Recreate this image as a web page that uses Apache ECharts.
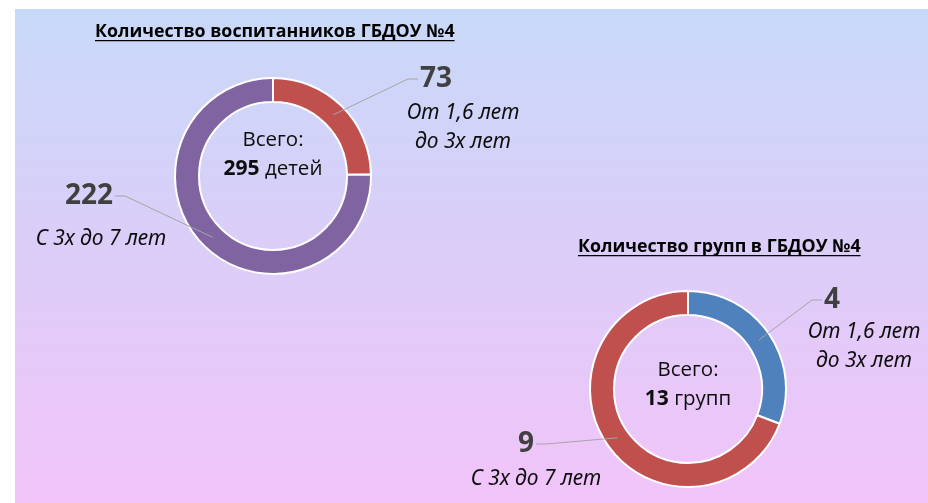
<!DOCTYPE html>
<html><head><meta charset="utf-8">
<script src="https://cdn.jsdelivr.net/npm/echarts@6/dist/echarts.min.js"></script>
<style>html,body{margin:0;padding:0;background:#fff}#c{width:928px;height:503px}</style>
</head><body><div id="c"></div>
<script>
// ---- data ----
const chart1Title = 'Количество воспитанников ГБДОУ №4';
const chart1Categories = ['От 1,6 лет\nдо 3х лет', 'С 3х до 7 лет'];
const chart1Values = [73, 222];
const chart1Unit = 'детей';

const chart2Title = 'Количество групп в ГБДОУ №4';
const chart2Categories = ['От 1,6 лет\nдо 3х лет', 'С 3х до 7 лет'];
const chart2Values = [4, 9];
const chart2Unit = 'групп';

const totalWord = 'Всего:';

// ---- layout / style ----
const FONT = '"Open Sans", "Noto Sans", sans-serif';
const ITALIC_FONT = '"Noto Sans", "Open Sans", sans-serif';
const TITLE_FONT = '"Open Sans", Roboto, sans-serif';
const colors1 = ['#c0504d', '#8064a2'];
const colors2 = ['#4f81bd', '#c0504d'];
const C1 = [273, 176], C2 = [688, 389];
const R_IN = 74, R_OUT = 98, R_ANCHOR = 86;

// label placement: [x, y, align]
const numPos1 = [[420, 79, 'left'], [113, 196, 'right']];
const descPos1 = [[463, 128, 'center'], [101, 239, 'center']];
const numPos2 = [[824, 300, 'left'], [534, 444, 'right']];
const descPos2 = [[864, 347, 'center'], [536, 479, 'center']];

function measure(text, font) {
  const ctx = document.createElement('canvas').getContext('2d');
  ctx.font = font;
  return ctx.measureText(text).width;
}

function leader(posArr) {
  return function (p) {
    const pos = posArr[p.dataIndex];
    const out = { x: pos[0], y: pos[1], align: pos[2], verticalAlign: 'middle' };
    if (p.labelLinePoints) {
      const a = p.labelLinePoints[0];
      const dir = pos[2] === 'left' ? -1 : 1;
      out.labelLinePoints = [a, [pos[0] + dir * 12, pos[1]], [pos[0] + dir * 2, pos[1]]];
    }
    return out;
  };
}
function place(posArr) {
  return function (p) {
    const pos = posArr[p.dataIndex];
    return { x: pos[0], y: pos[1], align: pos[2], verticalAlign: 'middle' };
  };
}

function donut(center, cats, vals, cols, descPos) {
  return {
    type: 'pie', center: center, radius: [R_IN, R_OUT], startAngle: 90, clockwise: true,
    avoidLabelOverlap: false, silent: true, z: 2,
    emphasis: { disabled: true },
    itemStyle: { borderColor: '#ffffff', borderWidth: 2 },
    label: {
      show: true, position: 'outside', formatter: '{b}', fontFamily: ITALIC_FONT,
      fontStyle: 'italic', fontSize: 21, lineHeight: 29, color: '#0d0d0d', align: 'center'
    },
    labelLine: { show: false },
    labelLayout: place(descPos),
    data: cats.map((c, i) => ({ name: c, value: vals[i], itemStyle: { color: cols[i] } }))
  };
}
function anchors(center, cats, vals, numPos) {
  return {
    type: 'pie', center: center, radius: [R_ANCHOR - 1, R_ANCHOR], startAngle: 90, clockwise: true,
    avoidLabelOverlap: false, silent: true, z: 5,
    emphasis: { disabled: true },
    itemStyle: { color: 'rgba(0,0,0,0)', borderWidth: 0 },
    label: {
      show: true, position: 'outside', formatter: '{c}', fontFamily: FONT,
      fontWeight: 'bold', fontSize: 28, color: '#404040'
    },
    labelLine: { show: true, length: 10, length2: 10, lineStyle: { color: '#a6a6a6', width: 1 } },
    labelLayout: leader(numPos),
    data: cats.map((c, i) => ({ name: c, value: vals[i] }))
  };
}

function titleGraphics(text, x, y) {
  const font = 'bold 17.8px ' + TITLE_FONT;
  const w = measure(text, font);
  return [
    { type: 'text', x: x, y: y, z: 10,
      style: { text: text, font: font, fill: '#000', textAlign: 'left', textVerticalAlign: 'middle' } },
    { type: 'rect', z: 10, shape: { x: x, y: y + 8, width: w, height: 1.2 }, style: { fill: '#000' } }
  ];
}
function centerGraphics(center, vals, unit, dy) {
  const total = vals.reduce((s, v) => s + v, 0);
  return [{
    type: 'text', x: center[0], y: center[1] + dy, z: 10,
    style: {
      text: '{n|' + totalWord + '}\n{b|' + total + '}{n| ' + unit + '}',
      textAlign: 'center', textVerticalAlign: 'middle',
      rich: {
        n: { fontFamily: FONT, fontSize: 20.5, lineHeight: 29, fill: '#0d0d0d', color: '#0d0d0d' },
        b: { fontFamily: FONT, fontSize: 21, fontWeight: 'bold', lineHeight: 29, fill: '#0d0d0d', color: '#0d0d0d' }
      }
    }
  }];
}

const chart = echarts.init(document.getElementById('c'), null, { renderer: 'canvas' });
chart.setOption({
  animation: false,
  graphic: [
    { type: 'rect', z: -10, shape: { x: 15, y: 9, width: 913, height: 494 },
      style: { fill: new echarts.graphic.LinearGradient(0, 0, 0, 1, [
        { offset: 0, color: '#c8d9f8' }, { offset: 0.5, color: '#dccdf8' }, { offset: 1, color: '#f2c4f9' }]) } },
    ...titleGraphics(chart1Title, 95, 32),
    ...titleGraphics(chart2Title, 578, 247),
    ...centerGraphics(C1, chart1Values, chart1Unit, -21),
    ...centerGraphics(C2, chart2Values, chart2Unit, -4)
  ],
  series: [
    donut(C1, chart1Categories, chart1Values, colors1, descPos1),
    anchors(C1, chart1Categories, chart1Values, numPos1),
    donut(C2, chart2Categories, chart2Values, colors2, descPos2),
    anchors(C2, chart2Categories, chart2Values, numPos2)
  ]
});
</script></body></html>
